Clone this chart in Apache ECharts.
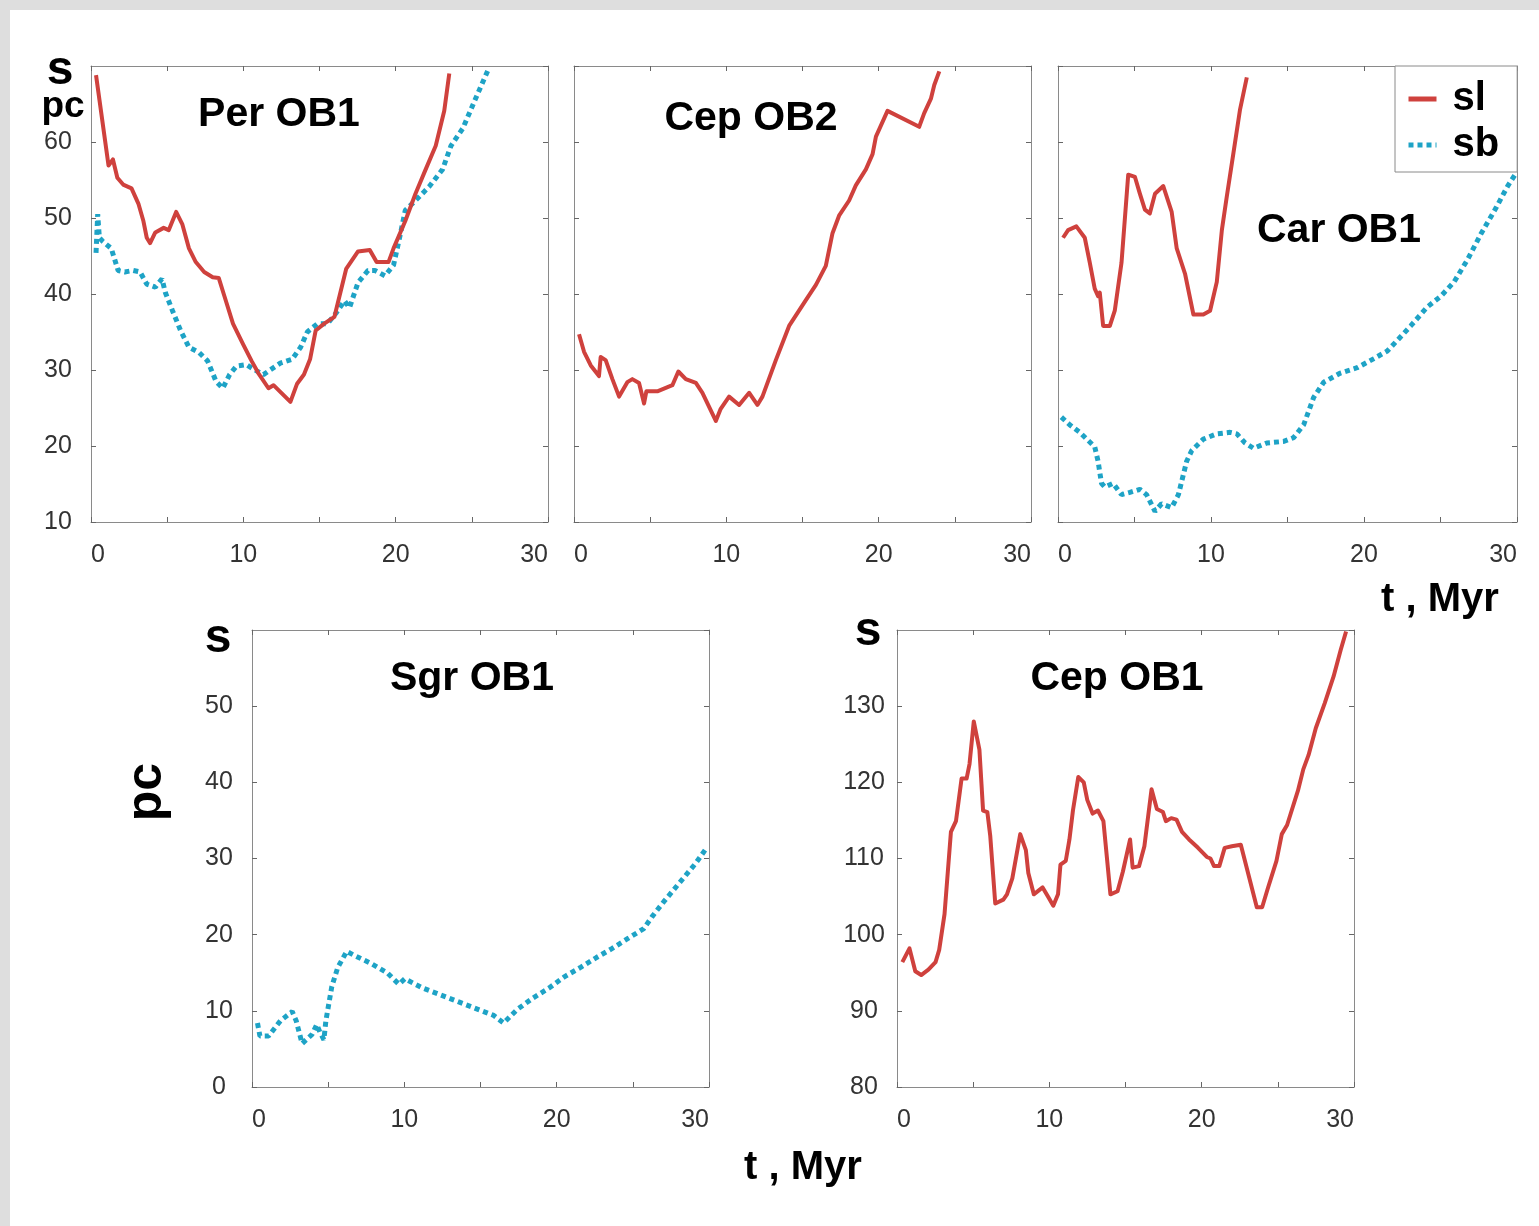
<!DOCTYPE html>
<html>
<head>
<meta charset="utf-8">
<title>s(t) for OB associations</title>
<script src="https://cdn.jsdelivr.net/npm/echarts@6/dist/echarts.min.js"></script>
<style>
  html, body { margin: 0; padding: 0; background: #ffffff; }
  #chart { width: 1539px; height: 1226px; }
</style>
</head>
<body>
<div id="chart"></div>
<script>
// ---- data: time t (Myr) and dispersion s (pc) ----
// Per OB1
const tPerSl = [0.33,1.15,1.44,1.73,2.11,2.66,3.11,3.44,3.66,3.88,4.22,4.77,5.10,5.59,5.99,6.43,6.88,7.43,7.99,8.39,8.76,9.32,9.98,10.54,10.98,11.65,11.98,13.09,13.53,13.98,14.38,14.75,15.31,15.98,16.75,17.53,18.30,18.75,19.53,19.86,20.63,21.30,21.97,22.63,23.19,23.52];
const sPerSl = [68.8,56.9,57.7,55.3,54.4,53.9,51.9,49.6,47.4,46.7,48.1,48.7,48.4,50.8,49.2,46.0,44.2,42.9,42.2,42.1,39.7,36.1,33.4,31.2,29.6,27.6,28.0,25.8,28.2,29.4,31.4,35.2,36.1,37.0,43.3,45.6,45.8,44.2,44.2,46.0,49.6,53.2,56.4,59.5,64.1,69.0];
const tPerSb = [0.33,0.44,0.55,0.78,1.33,1.78,2.22,2.77,3.22,3.66,4.22,4.66,4.88,5.33,5.88,6.43,7.10,7.65,8.21,8.65,9.10,9.54,10.21,10.76,11.32,11.76,12.43,13.20,13.76,14.20,14.87,15.53,16.09,16.64,16.97,17.53,18.19,18.64,19.30,19.86,20.30,20.63,21.30,22.19,23.08,23.63,24.41,25.18,26.07];
const sPerSb = [45.4,50.5,47.4,46.9,46.0,43.1,42.9,43.1,42.9,41.3,40.9,42.0,40.2,37.9,35.2,33.0,32.3,31.2,28.5,27.6,29.4,30.5,30.7,30.0,29.4,30.0,30.9,31.4,33.0,35.0,36.1,36.1,37.5,39.1,38.2,41.5,43.1,43.1,42.4,43.8,47.8,51.0,52.3,54.1,56.4,59.5,61.8,65.4,69.5];

// Cep OB2
const tCep2Sl = [0.33,0.66,1.10,1.64,1.75,2.08,2.52,2.96,3.50,3.83,4.27,4.60,4.75,5.47,6.46,6.85,7.34,8.00,8.43,9.31,9.63,10.18,10.84,11.50,12.04,12.37,13.25,14.12,15.22,15.88,16.53,16.97,17.40,18.06,18.50,19.16,19.60,19.82,20.58,22.66,22.99,23.43,23.65,23.98];
const sCep2Sl = [34.7,32.4,30.6,29.2,31.7,31.3,28.8,26.5,28.4,28.8,28.3,25.6,27.2,27.2,28.0,29.8,28.8,28.3,27.0,23.3,24.9,26.5,25.4,27.0,25.4,26.5,31.3,35.8,39.2,41.2,43.7,48.0,50.3,52.3,54.3,56.4,58.4,60.7,64.1,62.0,63.8,65.7,67.5,69.3];

// Car OB1
const tCarSl = [0.33,0.66,1.20,1.75,2.08,2.40,2.62,2.73,2.95,3.39,3.71,4.15,4.59,5.03,5.35,5.68,6.00,6.34,6.88,7.43,7.76,8.31,8.85,9.50,9.94,10.38,10.71,11.03,11.47,11.90,12.34];
const sCarSl = [47.4,48.4,48.9,47.4,44.1,40.7,39.7,40.2,35.8,35.8,37.8,44.1,55.7,55.4,53.2,51.1,50.6,53.2,54.2,50.8,46.0,42.6,37.3,37.3,37.8,41.6,48.4,52.8,58.6,64.3,68.5];
const tCarSb = [0.22,0.76,1.42,2.40,2.62,2.84,3.06,3.60,4.15,4.70,5.35,5.79,6.34,6.77,7.43,7.87,8.41,8.74,9.50,10.38,11.25,11.69,12.23,12.78,13.65,14.75,15.40,16.06,16.71,17.37,18.46,19.55,20.65,21.52,22.18,23.05,24.14,25.02,25.89,26.76,27.64,28.62,29.39,29.94];
const sCarSb = [23.8,22.8,21.8,19.9,18.0,15.1,14.6,15.1,13.6,13.9,14.3,13.6,11.4,12.4,11.9,13.6,18.0,19.4,20.9,21.6,21.8,21.6,20.4,19.7,20.4,20.6,21.1,22.8,26.4,28.4,29.6,30.3,31.5,32.5,33.9,35.8,38.3,39.7,41.6,44.5,47.9,51.3,54.2,55.9];

// Sgr OB1
const tSgrSb = [0.36,0.52,1.09,1.87,2.64,2.90,3.29,3.94,4.25,4.46,4.72,4.85,5.24,5.63,6.22,6.79,7.83,8.87,9.64,10.03,11.20,12.50,13.53,14.83,15.87,16.52,17.42,18.46,19.50,20.53,21.57,22.61,23.65,24.68,25.72,26.24,27.02,28.06,29.10,29.74];
const sSgrSb = [8.4,6.7,6.7,8.7,9.9,8.7,5.7,6.9,8.2,7.2,6.2,8.7,13.2,15.7,17.8,17.2,16.2,15.0,13.5,14.2,13.0,12.0,11.2,10.2,9.4,8.4,10.2,11.7,13.0,14.5,15.7,17.0,18.2,19.5,20.8,22.3,24.3,26.8,29.3,31.1];

// Cep OB1
const tCep1Sl = [0.35,0.82,1.20,1.59,2.06,2.53,2.77,3.12,3.54,3.87,4.24,4.57,4.76,5.04,5.41,5.65,5.93,6.12,6.45,6.98,7.22,7.57,8.09,8.46,8.62,8.98,9.56,9.91,10.26,10.57,10.73,11.08,11.32,11.55,11.90,12.26,12.49,12.84,13.19,13.55,14.01,14.48,14.83,15.30,15.47,15.89,16.24,16.71,17.06,17.46,17.65,18.00,18.35,18.71,19.17,19.76,20.34,20.58,20.81,21.16,21.51,21.98,22.57,23.62,23.97,24.33,24.91,25.26,25.61,26.32,26.67,27.02,27.49,28.08,28.66,29.13,29.48];
const sCep1Sl = [96.4,98.2,95.2,94.7,95.4,96.4,98.0,102.7,113.5,114.9,120.5,120.5,122.4,128.0,124.3,116.3,116.1,113.0,104.1,104.6,105.3,107.4,113.2,111.1,108.1,105.3,106.2,105.0,103.8,105.3,109.2,109.7,112.5,116.3,120.7,120.0,117.7,115.9,116.3,114.9,105.3,105.7,108.3,112.5,108.8,109.0,111.6,119.1,116.5,116.1,114.9,115.3,115.1,113.5,112.5,111.4,110.2,110.0,109.0,109.0,111.4,111.6,111.8,103.6,103.6,106.0,109.7,113.2,114.4,118.9,121.7,123.6,127.1,130.4,133.9,137.4,139.8];

// axis tick values
const tTicks = [0, 10, 20, 30];
const yTopRange = [10, 70];
const ySgrRange = [0, 60];
const yCep1Range = [80, 140];

// ---- styling ----
const FONT = '"Liberation Sans", Arial, sans-serif';
const RED = '#cf413d';
const BLUE = '#1ea3c6';
const AXIS_COLOR = '#8a8a8a';
const TICK_COLOR = '#666666';

const zip = (xs, ys) => xs.map((x, i) => [x, ys[i]]);

const panels = [
  { box: { left: 91,   top: 66,  width: 457, height: 456 }, y: yTopRange,  yLabels: true  },
  { box: { left: 574,  top: 66,  width: 457, height: 456 }, y: yTopRange,  yLabels: false },
  { box: { left: 1058, top: 66,  width: 459, height: 456 }, y: yTopRange,  yLabels: false },
  { box: { left: 252,  top: 630, width: 457, height: 457 }, y: ySgrRange,  yLabels: true  },
  { box: { left: 897,  top: 630, width: 457, height: 457 }, y: yCep1Range, yLabels: true  }
];

const grid = [], xAxis = [], yAxis = [];
const lineAx = { show: true, onZero: false, lineStyle: { color: AXIS_COLOR, width: 1 } };
const tickAx = { show: true, inside: true, length: 5, lineStyle: { color: TICK_COLOR, width: 1 } };
const labelStyle = { fontFamily: FONT, fontSize: 25, color: '#333333' };

panels.forEach((p, i) => {
  grid.push(Object.assign({ containLabel: false }, p.box));
  xAxis.push({
    gridIndex: i, type: 'value', position: 'bottom', min: 0, max: 30, interval: 5,
    axisLine: lineAx, axisTick: tickAx, splitLine: { show: false },
    axisLabel: Object.assign({
      margin: 21, alignMinLabel: 'left', alignMaxLabel: 'right',
      formatter: v => (tTicks.indexOf(v) >= 0 ? String(v) : '')
    }, labelStyle)
  });
  xAxis.push({
    gridIndex: i, type: 'value', position: 'top', min: 0, max: 30, interval: 5,
    axisLine: lineAx, axisTick: tickAx, splitLine: { show: false }, axisLabel: { show: false }
  });
  yAxis.push({
    gridIndex: i, type: 'value', position: 'left', min: p.y[0], max: p.y[1], interval: 10,
    axisLine: lineAx, axisTick: tickAx, splitLine: { show: false },
    axisLabel: Object.assign({ show: p.yLabels, showMaxLabel: false, align: 'center', margin: 33 }, labelStyle)
  });
  yAxis.push({
    gridIndex: i, type: 'value', position: 'right', min: p.y[0], max: p.y[1], interval: 10,
    axisLine: lineAx, axisTick: tickAx, splitLine: { show: false }, axisLabel: { show: false }
  });
});

function slSeries(panel, t, s) {
  return {
    name: 'sl', type: 'line', xAxisIndex: panel * 2, yAxisIndex: panel * 2,
    data: zip(t, s), symbol: 'none', z: 3,
    lineStyle: { color: RED, width: 4, join: 'round' }, itemStyle: { color: RED }
  };
}
function sbSeries(panel, t, s) {
  return {
    name: 'sb', type: 'line', xAxisIndex: panel * 2, yAxisIndex: panel * 2,
    data: zip(t, s), symbol: 'none', z: 2,
    lineStyle: { color: BLUE, width: 5, type: [5, 4], cap: 'butt' }, itemStyle: { color: BLUE }
  };
}

const series = [
  sbSeries(0, tPerSb, sPerSb),
  slSeries(0, tPerSl, sPerSl),
  slSeries(1, tCep2Sl, sCep2Sl),
  sbSeries(2, tCarSb, sCarSb),
  slSeries(2, tCarSl, sCarSl),
  sbSeries(3, tSgrSb, sSgrSb),
  slSeries(4, tCep1Sl, sCep1Sl)
];

function label(text, x, y, size, extra) {
  return Object.assign({
    type: 'text', x: x, y: y, z: 10,
    style: { text: text, fill: '#000', font: 'bold ' + size + 'px ' + FONT, align: 'center', verticalAlign: 'middle' }
  }, extra || {});
}

const graphic = [
  { type: 'rect', z: -1, shape: { x: 0, y: 0, width: 1539, height: 10 }, style: { fill: '#dedede' } },
  { type: 'rect', z: -1, shape: { x: 0, y: 0, width: 10, height: 1226 }, style: { fill: '#dedede' } },
  label('s', 60, 71, 48),
  label('pc', 63, 107, 37),
  label('Per OB1', 279, 115, 41),
  label('Cep OB2', 751, 119, 41),
  label('Car OB1', 1339, 231, 41),
  label('t , Myr', 1440, 600, 40),
  label('s', 218, 639, 48),
  label('pc', 147, 792, 50, { rotation: Math.PI / 2 }),
  label('Sgr OB1', 472, 679, 41),
  label('s', 868, 632, 48),
  label('Cep OB1', 1117, 679, 41),
  label('t , Myr', 803, 1168, 40)
];

const chart = echarts.init(document.getElementById('chart'), null, { renderer: 'canvas' });
chart.setOption({
  animation: false,
  backgroundColor: '#ffffff',
  grid: grid,
  xAxis: xAxis,
  yAxis: yAxis,
  series: series,
  graphic: graphic,
  legend: {
    data: ['sl', 'sb'],
    orient: 'vertical',
    left: 1395, top: 66,
    padding: [10, 18, 4, 11],
    itemGap: 0,
    itemWidth: 28, itemHeight: 2,
    itemStyle: { opacity: 0 },
    lineStyle: { width: 5 },
    borderColor: '#8a8a8a', borderWidth: 1, borderRadius: 0,
    backgroundColor: '#ffffff',
    selectedMode: false,
    textStyle: { fontFamily: FONT, fontSize: 40, fontWeight: 'bold', color: '#000', lineHeight: 30, padding: [0, 0, 16, 11] }
  }
});
</script>
</body>
</html>
